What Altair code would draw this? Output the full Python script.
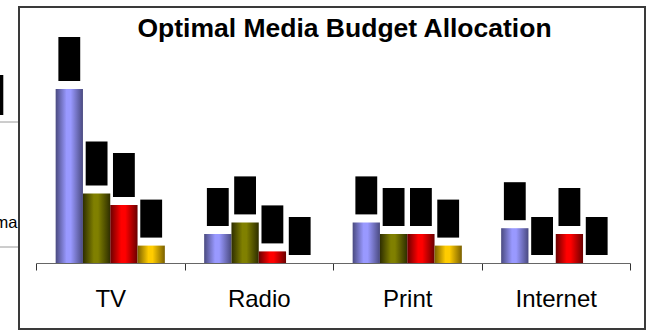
import altair as alt
import pandas as pd

# ---- data ----
categories = ["TV", "Radio", "Print", "Internet"]
series = ["Series 1", "Series 2", "Series 3", "Series 4"]
tv_values = [30, 12, 10, 3]
radio_values = [5, 7, 2, 0]
print_values = [7, 5, 5, 3]
internet_values = [6, 0, 5, 0]
title_text = "Optimal Media Budget Allocation"

# ---- styling ----
light = ["#9999ff", "#808000", "#ff0000", "#ffcc00"]
dark = ["#4a4a80", "#2e2e00", "#6a0000", "#7a6000"]

Y_DOMAIN = [0, 30]
Y_RANGE = [256, 82]
PX_PER_UNIT = (Y_RANGE[0] - Y_RANGE[1]) / (Y_DOMAIN[1] - Y_DOMAIN[0])
GAP_PX = 8
BOX_BAND = 0.8

rows = []
for cat, vals in zip(categories, [tv_values, radio_values, print_values, internet_values]):
    for s, v in zip(series, vals):
        label = f"{v}%"
        box_px = 26 + 6 * len(label)  # hidden (blacked-out) label length
        rows.append({
            "category": cat,
            "series": s,
            "value": v,
            "box_bottom": v + GAP_PX / PX_PER_UNIT,
            "box_top": v + (GAP_PX + box_px) / PX_PER_UNIT,
        })
df = pd.DataFrame(rows)

X_RANGE = [17, 611]
OFFSET_PAD = 0.72
sub_step = (X_RANGE[1] - X_RANGE[0]) / len(categories) / (len(series) + 2 * OFFSET_PAD)

x_enc = alt.X(
    "category:N",
    sort=categories,
    scale=alt.Scale(domain=categories, range=X_RANGE, paddingInner=0, paddingOuter=0),
    axis=alt.Axis(
        title=None, labelAngle=0, labelFont="Liberation Sans", labelFontSize=24,
        labelColor="black", labelBaseline="alphabetic", labelPadding=36,
        tickBand="extent", tickSize=7, tickColor="#333333", domainColor="#666666",
        domainWidth=1, tickWidth=1, grid=False, offset=-66,
    ),
)
xo_enc = alt.XOffset(
    "series:N",
    scale=alt.Scale(domain=series, paddingInner=0, paddingOuter=OFFSET_PAD),
)
y_scale = alt.Scale(domain=Y_DOMAIN, range=Y_RANGE, nice=False, zero=False)

layers = []
for i, s in enumerate(series):
    grad = alt.LinearGradient(
        gradient="linear",
        stops=[
            alt.GradientStop(color=dark[i], offset=0),
            alt.GradientStop(color=light[i], offset=0.4),
            alt.GradientStop(color=light[i], offset=0.55),
            alt.GradientStop(color=dark[i], offset=1),
        ],
        x1=0, x2=1, y1=0, y2=0,
    )
    layer = alt.Chart(df).transform_filter(alt.datum.series == s).mark_bar(
        color=grad
    ).encode(
        x=x_enc,
        xOffset=xo_enc,
        y=alt.Y("value:Q", scale=y_scale, axis=None),
    )
    layers.append(layer)

# blacked-out value labels above each bar
boxes = alt.Chart(df).mark_rule(
    color="black", strokeWidth=sub_step * BOX_BAND, strokeCap="butt", opacity=1
).encode(
    x=x_enc,
    xOffset=xo_enc,
    y=alt.Y("box_bottom:Q", scale=y_scale, axis=None),
    y2="box_top:Q",
)

deco_data = pd.DataFrame({"d": [0]})
title_mark = alt.Chart(deco_data).mark_text(
    align="center", baseline="alphabetic", font="Liberation Sans", fontSize=26.5,
    fontWeight="bold", color="black",
).encode(x=alt.value(325.5), y=alt.value(30), text=alt.value(title_text))

# stray spreadsheet fragments visible left of the chart frame
frag_rect = alt.Chart(deco_data).mark_rect(color="black").encode(
    x=alt.value(-19), x2=alt.value(-15.7), y=alt.value(68), y2=alt.value(108)
)
frag_line1 = alt.Chart(deco_data).mark_rule(color="#9a9a9a").encode(
    x=alt.value(-19), x2=alt.value(-1), y=alt.value(115)
)
frag_line2 = alt.Chart(deco_data).mark_rule(color="#9a9a9a").encode(
    x=alt.value(-19), x2=alt.value(-1), y=alt.value(240)
)
frag_text = alt.Chart(deco_data).mark_text(
    align="right", baseline="alphabetic", font="Liberation Sans", fontSize=16.5, color="black"
).encode(x=alt.value(-1.5), y=alt.value(221), text=alt.value("ma"))

chart = alt.layer(
    *layers, boxes, title_mark, frag_rect, frag_line1, frag_line2, frag_text
).properties(
    width=626,
    height=322,
    autosize=alt.AutoSizeParams(type="none"),
    padding={"left": 19, "top": 7, "right": 7, "bottom": 2},
    view=alt.ViewBackground(stroke="#3a3a3a", strokeWidth=2, fill="white"),
).configure_view(stroke="#3a3a3a", strokeWidth=2).configure(background="white")

chart.save("out.html", embed_options={"renderer": "svg", "actions": False})
